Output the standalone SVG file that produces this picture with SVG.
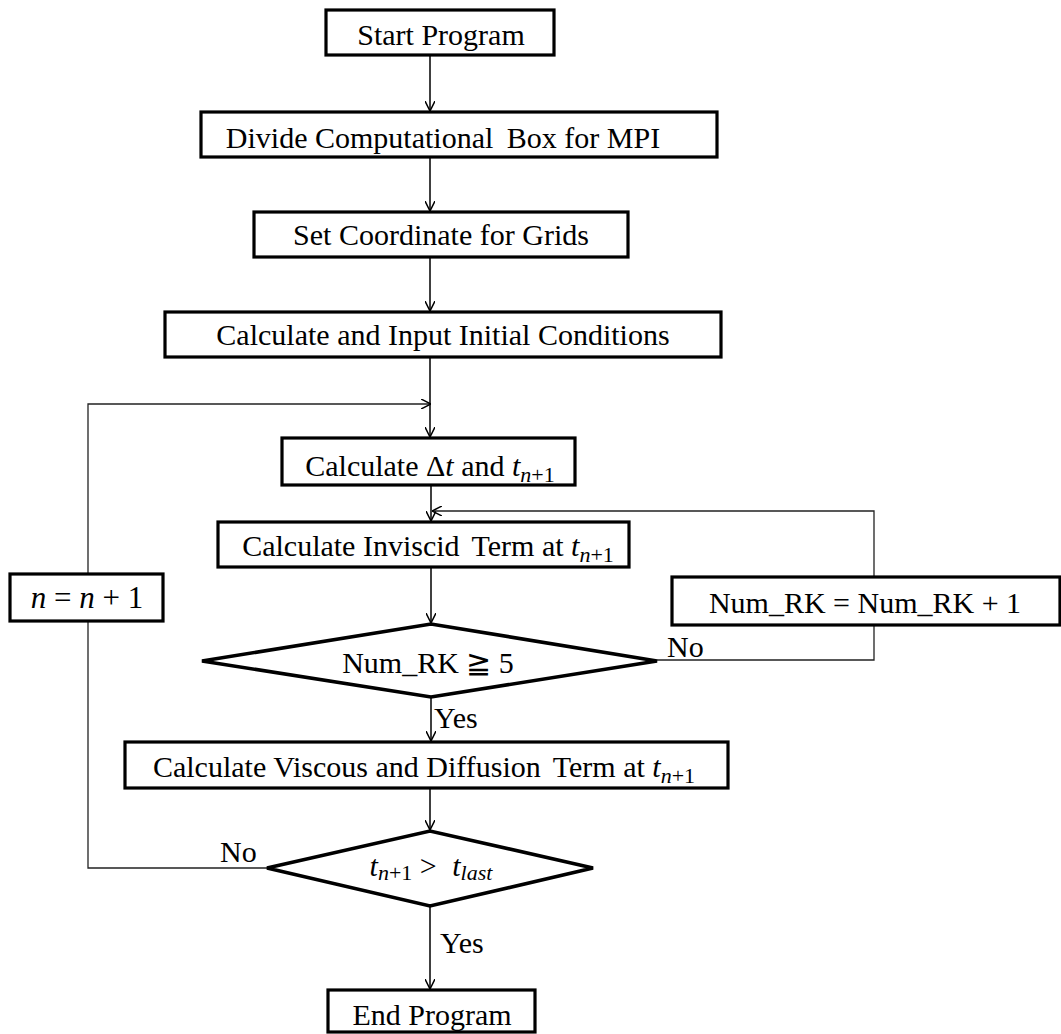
<svg xmlns="http://www.w3.org/2000/svg" width="1061" height="1034" viewBox="0 0 1061 1034">
<style>
text{font-family:"Liberation Serif","Times New Roman",serif;font-size:30px;fill:#000}
.c{text-anchor:middle}
.box{fill:#fff;stroke:#000;stroke-width:3.2}
.dia{fill:#fff;stroke:#000;stroke-width:3.6;stroke-linejoin:miter}
.ln{fill:none;stroke:#000;stroke-width:1.5}
.lp{fill:none;stroke:#222;stroke-width:1.3}
.i{font-style:italic}
.s{font-size:22px}
</style>
<defs>
<marker id="ah" viewBox="0 0 10 10" refX="10" refY="5" markerWidth="10" markerHeight="10" markerUnits="userSpaceOnUse" orient="auto">
<path d="M0,0 L10,5 L0,10" fill="none" stroke="#000" stroke-width="1.5"/>
</marker>
</defs>
<g id="connectors">
<line class="ln" x1="430" y1="55" x2="430" y2="111" marker-end="url(#ah)"/>
<line class="ln" x1="430" y1="157" x2="430" y2="211" marker-end="url(#ah)"/>
<line class="ln" x1="430" y1="257" x2="430" y2="311" marker-end="url(#ah)"/>
<line class="ln" x1="430" y1="357" x2="430" y2="437" marker-end="url(#ah)"/>
<polyline class="lp" points="267,868 88,868 88,404 431,404" marker-end="url(#ah)"/>
<line class="ln" x1="431" y1="485" x2="431" y2="521" marker-end="url(#ah)"/>
<polyline class="lp" points="657,660 874,660 874,511 432,511" marker-end="url(#ah)"/>
<line class="ln" x1="431" y1="567" x2="431" y2="623" marker-end="url(#ah)"/>
<line class="ln" x1="431" y1="697" x2="431" y2="741" marker-end="url(#ah)"/>
<line class="ln" x1="430" y1="788" x2="430" y2="830" marker-end="url(#ah)"/>
<line class="ln" x1="430" y1="906" x2="430" y2="989" marker-end="url(#ah)"/>
<text x="667" y="657">No</text>
<text x="434" y="728">Yes</text>
<text x="220" y="862">No</text>
<text x="440" y="953">Yes</text>
</g>
<g id="start">
<rect class="box" x="326" y="10" width="228" height="45"/>
<text class="c" x="441" y="45">Start Program</text>
</g>
<g id="divide">
<rect class="box" x="201" y="112" width="516" height="45"/>
<text class="c" x="443" y="148">Divide Computational <tspan dx="6">Box</tspan> for MPI</text>
</g>
<g id="setcoord">
<rect class="box" x="254" y="212" width="374" height="45"/>
<text class="c" x="441" y="245">Set Coordinate for Grids</text>
</g>
<g id="initial">
<rect class="box" x="165" y="312" width="556" height="45"/>
<text class="c" x="443" y="345">Calculate and Input Initial Conditions</text>
</g>
<g id="dt">
<rect class="box" x="282" y="438" width="293" height="47"/>
<text class="c" x="430" y="476">Calculate Δ<tspan class="i">t</tspan> and <tspan class="i">t</tspan><tspan class="s i" dy="6">n</tspan><tspan class="s">+1</tspan></text>
</g>
<g id="inviscid">
<rect class="box" x="218" y="522" width="411" height="45"/>
<text class="c" x="428" y="556">Calculate Inviscid <tspan dx="5">Term</tspan> at <tspan class="i">t</tspan><tspan class="s i" dy="6">n</tspan><tspan class="s">+1</tspan></text>
</g>
<g id="nincr">
<rect class="box" x="10" y="574" width="153" height="47"/>
<text class="c" x="87" y="608" style="font-size:31px"><tspan class="i">n</tspan> = <tspan class="i">n</tspan> + 1</text>
</g>
<g id="rkincr">
<rect class="box" x="672" y="577" width="388" height="48"/>
<text class="c" x="865" y="613">Num_RK = Num_RK + 1</text>
</g>
<g id="rkcheck">
<polygon class="dia" points="202,661 431,624 657,661 431,697"/>
<text class="c" x="428" y="673">Num_RK ≧ 5</text>
</g>
<g id="viscous">
<rect class="box" x="125" y="742" width="603" height="46"/>
<text class="c" x="424" y="777">Calculate Viscous and Diffusion <tspan dx="5">Term</tspan> at <tspan class="i">t</tspan><tspan class="s i" dy="6">n</tspan><tspan class="s">+1</tspan></text>
</g>
<g id="tcheck">
<polygon class="dia" points="267,868 430,831 593,868 430,906"/>
<text class="c" x="431" y="876"><tspan class="i">t</tspan><tspan class="s i" dy="4">n</tspan><tspan class="s">+1</tspan><tspan dy="-4"> &gt; </tspan><tspan class="i" dx="8">t</tspan><tspan class="s i" dy="4">last</tspan></text>
</g>
<g id="end">
<rect class="box" x="328" y="990" width="207" height="42"/>
<text class="c" x="432" y="1025">End Program</text>
</g>
</svg>
